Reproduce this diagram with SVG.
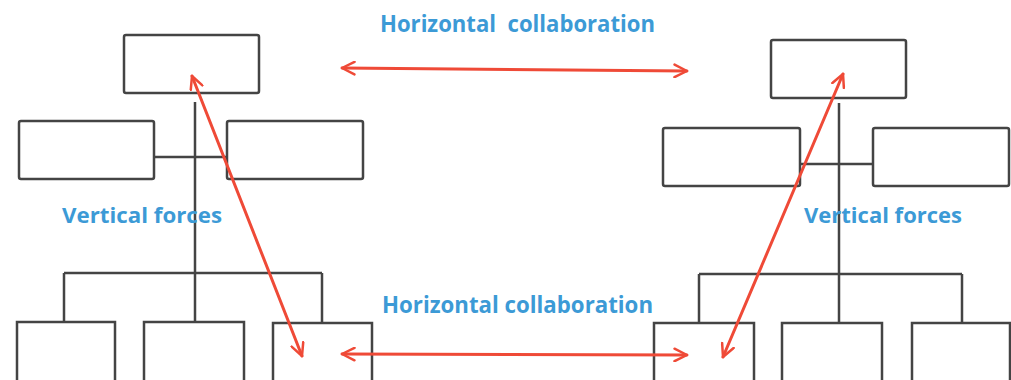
<svg xmlns="http://www.w3.org/2000/svg" width="1011" height="380" viewBox="0 0 1011 380">
<style>
.box{fill:#fff;stroke:#444;stroke-width:2.5}
.ln{fill:none;stroke:#444;stroke-width:2.5}
.arr{fill:none;stroke:#ef4a37;stroke-width:3;stroke-linecap:round}
.lbl{font-family:"Open Sans","Liberation Sans",sans-serif;font-weight:bold;fill:#3c9ad6}
</style>
<defs>
<marker id="ah" viewBox="0 0 12 12" refX="11" refY="6" markerWidth="5" markerHeight="5" orient="auto-start-reverse" markerUnits="strokeWidth">
<path d="M1,1 L11,6 L1,11" fill="none" stroke="#ef4a37" stroke-width="2" stroke-linecap="round" stroke-linejoin="round"/>
</marker>
</defs>
<rect width="1011" height="380" fill="#fff"/>
<g id="tree-lines">
<path class="ln" d="M195,102 V321 M154,157 H227 M64,273 H322 M64,273 V321 M322,273 V323"/>
<path class="ln" d="M839,103 V323 M800,164 H873 M699,274 H962 M699,274 V323 M962,274 V323"/>
</g>
<g id="left-top"><rect class="box" x="124" y="35" width="135" height="58" rx="2"/></g>
<g id="left-mid-1"><rect class="box" x="19" y="121" width="135" height="58" rx="2"/></g>
<g id="left-mid-2"><rect class="box" x="227" y="121" width="136" height="58" rx="2"/></g>
<g id="left-bot-1"><rect class="box" x="17" y="322" width="98" height="70"/></g>
<g id="left-bot-2"><rect class="box" x="144" y="322" width="100" height="70"/></g>
<g id="left-bot-3"><rect class="box" x="273" y="323" width="99" height="70"/></g>
<g id="right-top"><rect class="box" x="771" y="40" width="135" height="58" rx="2"/></g>
<g id="right-mid-1"><rect class="box" x="663" y="128" width="137" height="58" rx="2"/></g>
<g id="right-mid-2"><rect class="box" x="873" y="128" width="136" height="58" rx="2"/></g>
<g id="right-bot-1"><rect class="box" x="654" y="323" width="100" height="70"/></g>
<g id="right-bot-2"><rect class="box" x="782" y="323" width="100" height="70"/></g>
<g id="right-bot-3"><rect class="box" x="912" y="323" width="98" height="70"/></g>
<g id="connectors">
<line class="arr" x1="342" y1="68" x2="687" y2="71" marker-start="url(#ah)" marker-end="url(#ah)"/>
<line class="arr" x1="342" y1="354" x2="687" y2="355" marker-start="url(#ah)" marker-end="url(#ah)"/>
<line class="arr" x1="192" y1="76" x2="302" y2="356" marker-start="url(#ah)" marker-end="url(#ah)"/>
<line class="arr" x1="843" y1="74" x2="723" y2="357" marker-start="url(#ah)" marker-end="url(#ah)"/>
</g>
<g id="labels">
<text class="lbl" x="380" y="32" font-size="24" textLength="275" lengthAdjust="spacingAndGlyphs" xml:space="preserve">Horizontal  collaboration</text>
<text class="lbl" x="382" y="313" font-size="24" textLength="271" lengthAdjust="spacingAndGlyphs">Horizontal collaboration</text>
<text class="lbl" x="62" y="223" font-size="22" textLength="160" lengthAdjust="spacingAndGlyphs">Vertical forces</text>
<text class="lbl" x="804" y="223" font-size="22" textLength="158" lengthAdjust="spacingAndGlyphs">Vertical forces</text>
</g>
</svg>
